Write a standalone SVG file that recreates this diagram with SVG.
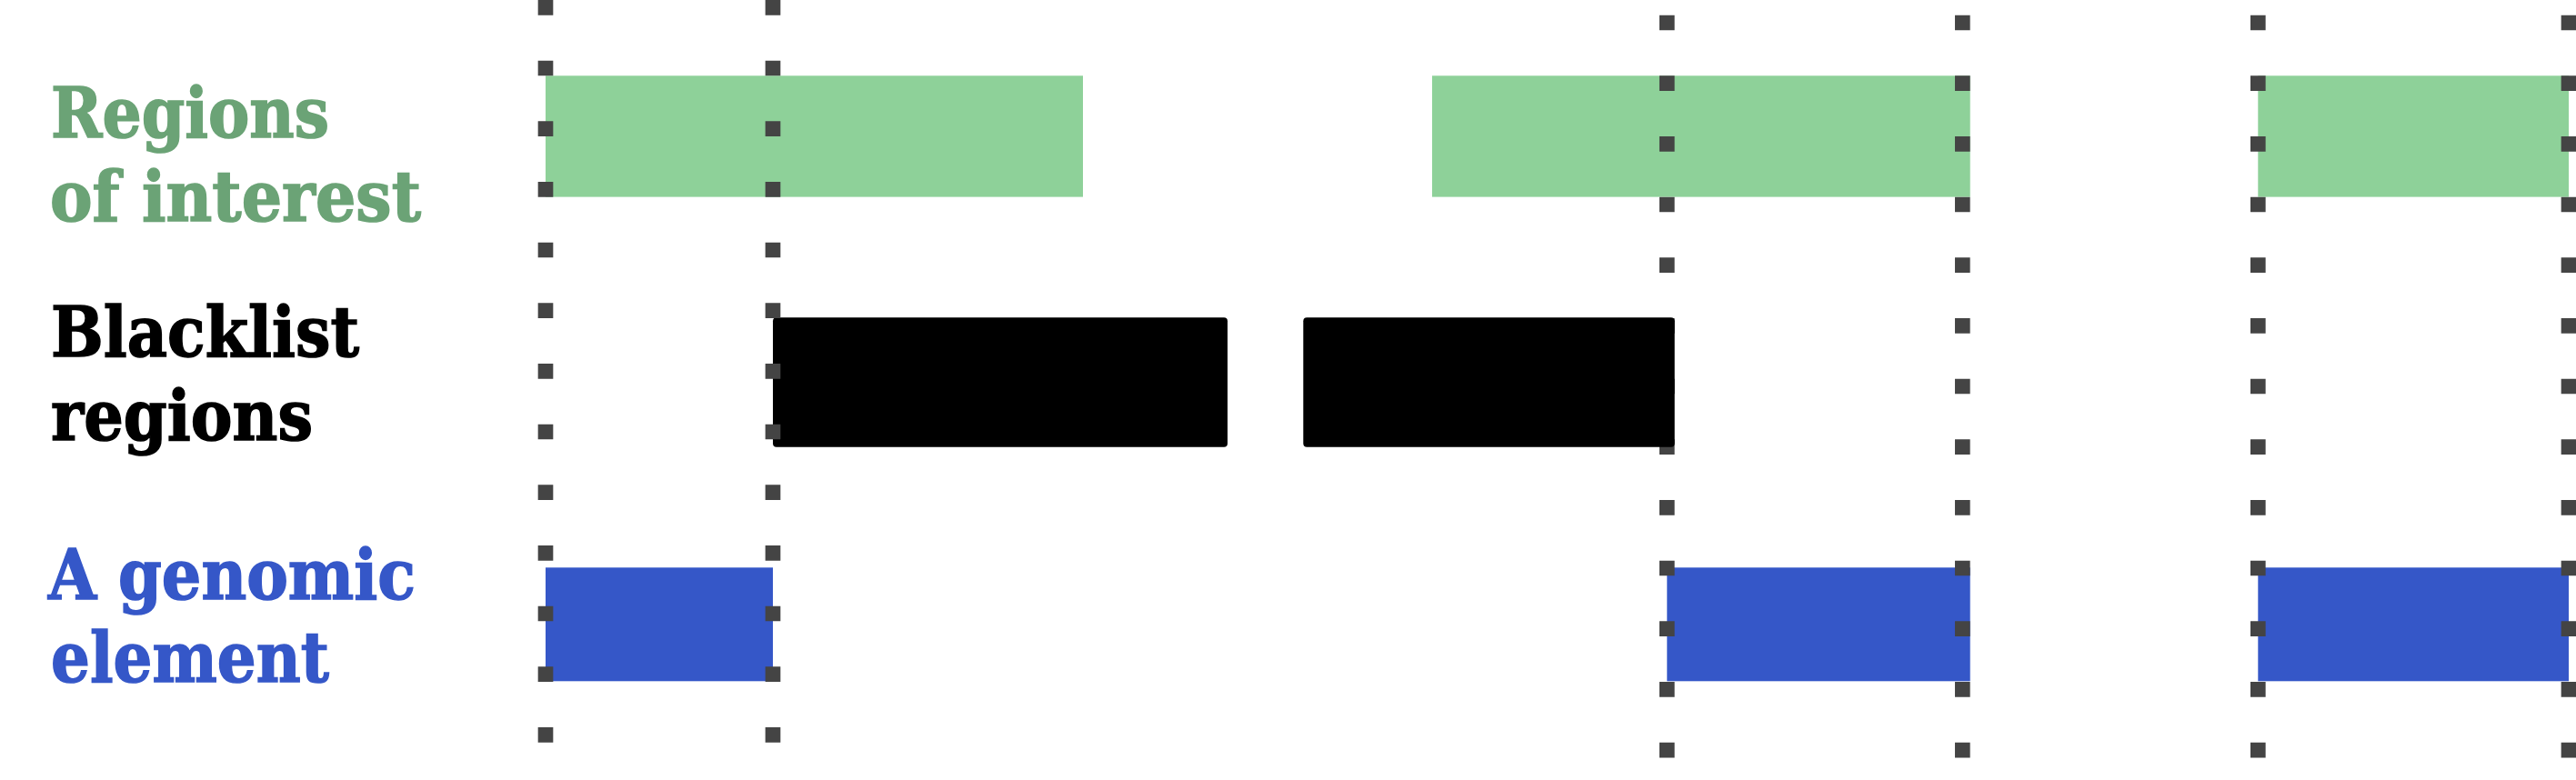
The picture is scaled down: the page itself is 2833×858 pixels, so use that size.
<svg xmlns="http://www.w3.org/2000/svg" width="2833" height="858" viewBox="0 0 2833 858">
<style>
  .lbl { font-family: "DejaVu Serif", "Liberation Serif", serif; font-weight: bold; font-size: 77px; stroke-width: 1.6px; }
  .roi-t { fill: #6ba376; stroke: #6ba376; }
  .bl-t { fill: #000000; stroke: #000000; }
  .ge-t { fill: #3557c8; stroke: #3557c8; }
  .roi { fill: #8ed199; }
  .bl { fill: #000000; }
  .ge { fill: #3557c8; }
  .grid { stroke: #444444; stroke-width: 16.67; stroke-dasharray: 16.67 50; fill: none; }
</style>
<rect width="2833" height="858" fill="#ffffff"/>
<g id="labels">
  <text class="lbl roi-t" x="56" y="151" textLength="306" lengthAdjust="spacingAndGlyphs">Regions</text>
  <text class="lbl roi-t" x="55" y="243.3" textLength="408" lengthAdjust="spacingAndGlyphs">of interest</text>
  <text class="lbl bl-t" x="56" y="391.7" textLength="339" lengthAdjust="spacingAndGlyphs">Blacklist</text>
  <text class="lbl bl-t" x="56" y="484.3" textLength="288" lengthAdjust="spacingAndGlyphs">regions</text>
  <text class="lbl ge-t" x="53" y="659.3" textLength="404" lengthAdjust="spacingAndGlyphs">A genomic</text>
  <text class="lbl ge-t" x="56" y="750" textLength="306" lengthAdjust="spacingAndGlyphs">element</text>
</g>
<g id="regions-of-interest">
  <rect class="roi" x="600" y="83.3" width="591" height="133.3"/>
  <rect class="roi" x="1575" y="83.3" width="591.7" height="133.3"/>
  <rect class="roi" x="2483.3" y="83.3" width="341.7" height="133.3"/>
</g>
<g id="genomic-elements">
  <rect class="ge" x="600" y="624.3" width="250" height="125"/>
  <rect class="ge" x="1833.3" y="624.3" width="333.4" height="125"/>
  <rect class="ge" x="2483.3" y="624.3" width="341.7" height="125"/>
</g>
<g id="blacklist-1">
  <rect class="bl" x="850" y="349.3" width="500" height="142.4" rx="4"/>
</g>
<g id="guides">
  <line class="grid" x1="600" y1="0" x2="600" y2="858"/>
  <line class="grid" x1="850" y1="0" x2="850" y2="858"/>
  <line class="grid" x1="1833.3" y1="16.67" x2="1833.3" y2="858"/>
  <line class="grid" x1="2158.3" y1="16.67" x2="2158.3" y2="858"/>
  <line class="grid" x1="2483.3" y1="16.67" x2="2483.3" y2="858"/>
  <line class="grid" x1="2825" y1="16.67" x2="2825" y2="858"/>
</g>
<g id="blacklist-2">
  <rect class="bl" x="1433.3" y="349.3" width="408.4" height="142.4" rx="4"/>
</g>
</svg>
